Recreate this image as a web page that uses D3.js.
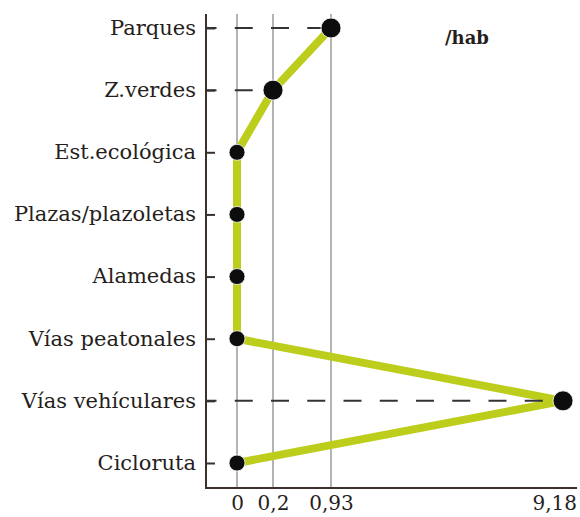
<!DOCTYPE html>
<html>
<head>
<meta charset="utf-8">
<script src="https://cdn.jsdelivr.net/npm/d3@7"></script>
<style>
  html, body { margin: 0; padding: 0; background: #fff; }
  svg text { font-family: "DejaVu Serif", "Liberation Serif", serif; fill: #261e1c; }
</style>
</head>
<body>
<svg id="chart" width="580" height="517"></svg>
<script>
// ============================================================
// DATA
// ============================================================
const categories = ['Parques', 'Z.verdes', 'Est.ecológica', 'Plazas/plazoletas',
  'Alamedas', 'Vías peatonales', 'Vías vehículares', 'Cicloruta'];
const values = [0.93, 0.2, 0, 0, 0, 0, 9.18, 0];
const xTicks = [0, 0.2, 0.93, 9.18];
const xTickLabels = ['0', '0,2', '0,93', '9,18'];
const gridValues = [0, 0.2, 0.93];
const dashedRows = ['Parques', 'Z.verdes', 'Vías vehículares'];
const unitLabel = '/hab';

// ============================================================
// LAYOUT
// ============================================================
const svg = d3.select('#chart');
const W = 580;
const axisX = 206, axisTop = 14, axisBottom = 488, axisRight = 577;

// piecewise scale: the original stretches the small values apart
const x = d3.scaleLinear().domain(xTicks).range([237, 273, 331, 563]);
const y = d3.scalePoint().domain(categories).range([28, 463]);

const points = categories.map((c, i) => ({ cat: c, v: values[i] }));

// vertical grid lines
svg.append('g').selectAll('line').data(gridValues).join('line')
  .attr('x1', d => x(d)).attr('x2', d => x(d))
  .attr('y1', axisTop).attr('y2', axisBottom)
  .attr('stroke', '#b3b3b3').attr('stroke-width', 2);

// left axis (ticks point inward)
const yAxis = svg.append('g')
  .attr('transform', `translate(${axisX},0)`)
  .call(d3.axisLeft(y).tickSize(-9).tickPadding(10));
yAxis.select('.domain').remove();
yAxis.selectAll('.tick line').attr('stroke', '#3a302c').attr('stroke-width', 2);
yAxis.selectAll('.tick text')
  .attr('font-size', 21).attr('font-family', null)
  .attr('fill', null).attr('dy', '0.3em');

svg.append('line')
  .attr('x1', axisX).attr('x2', axisX)
  .attr('y1', axisTop).attr('y2', axisBottom + 1)
  .attr('stroke', '#3a302c').attr('stroke-width', 2);

// bottom axis
const xAxis = svg.append('g')
  .attr('transform', `translate(0,${axisBottom})`)
  .call(d3.axisBottom(x).tickValues(xTicks).tickSize(0)
    .tickFormat((d, i) => xTickLabels[i]));
xAxis.select('.domain').remove();
xAxis.selectAll('.tick text')
  .attr('font-size', 20).attr('font-family', null)
  .attr('fill', null).attr('y', 22).attr('dy', 0)
  .each(function() {
    // keep the last label inside the picture, as in the original
    const b = this.getBBox();
    const tx = +this.parentNode.getAttribute('transform').match(/translate\(([^,]+)/)[1];
    const over = tx + b.x + b.width - (W - 3);
    if (over > 0) d3.select(this).attr('x', -over);
  });

svg.append('line')
  .attr('x1', axisX - 1).attr('x2', axisRight)
  .attr('y1', axisBottom).attr('y2', axisBottom)
  .attr('stroke', '#3a302c').attr('stroke-width', 2);

// green profile line
svg.append('path')
  .datum(points)
  .attr('fill', 'none')
  .attr('stroke', '#bccd1c')
  .attr('stroke-width', 8)
  .attr('stroke-linejoin', 'round')
  .attr('d', d3.line().x(d => x(d.v)).y(d => y(d.cat)));

// dashed leaders to the non-zero values
svg.append('g').selectAll('line')
  .data(points.filter(d => dashedRows.includes(d.cat))).join('line')
  .attr('x1', axisX).attr('x2', d => x(d.v))
  .attr('y1', d => y(d.cat)).attr('y2', d => y(d.cat))
  .attr('stroke', '#333').attr('stroke-width', 2)
  .attr('stroke-dasharray', '18,18.25')
  .attr('stroke-dashoffset', 7.5);

// dots
svg.append('g').selectAll('circle').data(points).join('circle')
  .attr('cx', d => x(d.v)).attr('cy', d => y(d.cat))
  .attr('r', d => d.v > 0 ? 10 : 8)
  .attr('fill', '#0d0d0d')
  .attr('stroke', '#fff').attr('stroke-width', 0.8);

// unit label
svg.append('text')
  .attr('x', 445).attr('y', 44)
  .attr('font-size', 18).attr('font-weight', 'bold')
  .text(unitLabel);
</script>
</body>
</html>
